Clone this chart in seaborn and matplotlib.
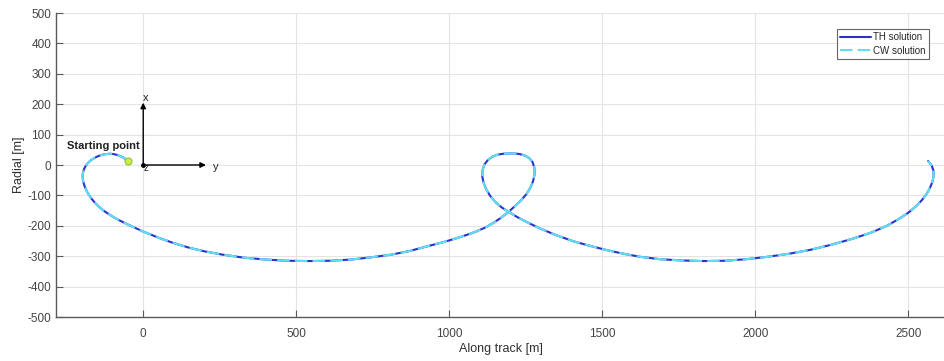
import matplotlib
matplotlib.use("Agg")
import matplotlib.pyplot as plt
import seaborn as sns
import pandas as pd

sns.set_style("white")
plt.rcParams["font.family"] = ["Liberation Sans", "DejaVu Sans"]
plt.rcParams["axes.unicode_minus"] = False

# Relative trajectory of the chaser in the target's LVLH frame [m]
along_track = [
    -50, -56, -64, -74, -85, -97, -109, -121, -133, -145, -156, -166, -175,
    -183, -189, -194, -197, -198, -197, -194, -190, -184, -177, -168, -157,
    -145, -131, -115, -98, -78, -56, -30, 0, 30, 60, 100, 150, 200, 260,
    330, 400, 470, 540, 610, 680, 750, 810, 870, 930, 980, 1030, 1080,
    1115, 1145, 1170, 1194, 1215, 1235, 1252, 1265, 1274, 1279, 1278, 1272,
    1262, 1248, 1230, 1212, 1194, 1176, 1158, 1140, 1126, 1115, 1109, 1108,
    1112, 1121, 1134, 1152, 1172, 1194, 1220, 1250, 1297, 1350, 1406, 1460,
    1515, 1570, 1624, 1690, 1760, 1830, 1900, 1970, 2040, 2110, 2180, 2250,
    2320, 2380, 2430, 2470, 2500, 2525, 2545, 2560, 2571, 2579, 2583, 2582,
    2577, 2570, 2565,
]
radial = [
    12, 18, 24, 29, 33, 36, 37, 36, 34, 30, 25, 19, 12,
    4, -5, -15, -26, -38, -50, -62, -74, -87, -99, -112, -125,
    -137, -149, -160, -171, -182, -193, -205, -219, -231, -243, -257, -272, -284, -295,
    -305, -311, -315, -316, -315, -311, -303, -295, -283, -267, -254, -239, -222,
    -207, -190, -173, -154, -135, -116, -96, -75, -53, -30, -8, 10,
    22, 31, 36, 38, 38, 37, 34, 27, 16, 2, -16, -37,
    -58, -80, -102, -123, -140, -154, -170, -186, -209, -231, -251, -266,
    -280, -292, -302, -310, -314, -316, -315, -310, -302, -292, -279, -262,
    -242, -222, -200, -177, -157, -136, -115, -95, -75, -55, -35, -18,
    -3, 7, 13,
]

start_point = (-50, 12)
series = ["TH solution", "CW solution"]

frames = [pd.DataFrame({"along": along_track, "radial": radial, "solution": s})
          for s in series]
df = pd.concat(frames, ignore_index=True)

fig = plt.figure(figsize=(9.45, 3.61), dpi=100)
ax = fig.add_axes([56 / 945, 44 / 361, 889 / 945, 304 / 361])

palette = {"TH solution": "#2f2fcf", "CW solution": "#5ee0f2"}
sns.lineplot(data=df[df.solution == "TH solution"], x="along", y="radial",
             sort=False, estimator=None, color=palette["TH solution"],
             lw=1.5, ax=ax, label="TH solution")
sns.lineplot(data=df[df.solution == "CW solution"], x="along", y="radial",
             sort=False, estimator=None, color=palette["CW solution"],
             lw=1.5, ax=ax, label="CW solution", dashes=False,
             linestyle=(0, (6, 2.5)))

# starting point marker and label
ax.plot(*start_point, "o", ms=5, mfc="#c9ef3f", mec="#8cc43a", mew=0.8, zorder=5)
ax.text(-250, 62, "Starting point", fontsize=8, fontweight="bold",
        color="#202020", ha="left", va="center")

# LVLH frame axes at the origin
arrow = dict(arrowstyle="-|>", color="black", lw=1.0, mutation_scale=8,
             shrinkA=0, shrinkB=0)
ax.annotate("", xy=(0, 205), xytext=(0, 0), arrowprops=arrow)
ax.annotate("", xy=(205, 0), xytext=(0, 0), arrowprops=arrow)
ax.plot(0, 0, "o", ms=2.5, color="black")
ax.text(8, 222, "x", fontsize=8, ha="center", va="center", color="#202020")
ax.text(238, -5, "y", fontsize=8, ha="center", va="center", color="#202020")
ax.text(8, -10, "z", fontsize=7, ha="center", va="center", color="#202020")

ax.set_xlim(-285, 2620)
ax.set_ylim(-500, 500)
ax.set_xticks([0, 500, 1000, 1500, 2000, 2500])
ax.set_yticks(range(-500, 501, 100))
ax.grid(True, color="#e4e4e4", lw=0.8)
ax.set_axisbelow(True)
for side in ("top", "right"):
    ax.spines[side].set_visible(False)
for side in ("left", "bottom"):
    ax.spines[side].set_color("#5a5a5a")
    ax.spines[side].set_linewidth(1.0)
ax.tick_params(direction="in", length=5, width=0.8, colors="#5a5a5a",
               labelcolor="#444444", labelsize=8.5, left=True, bottom=True)
ax.tick_params(axis="x", pad=8)

ax.set_xlabel("Along track [m]", fontsize=9, color="#303030", labelpad=3)
ax.set_ylabel("Radial [m]", fontsize=9, color="#303030", labelpad=2)
ax.xaxis.set_label_coords(0.5, -0.085)

leg = ax.legend(loc="upper right", fontsize=7, frameon=True, fancybox=False,
                edgecolor="#404040", borderpad=0.35, handlelength=3.2,
                handletextpad=0.2, labelspacing=0.35,
                bbox_to_anchor=(0.9876, 0.9638))
leg.get_frame().set_linewidth(0.8)

fig.savefig("out.png", dpi=100)
